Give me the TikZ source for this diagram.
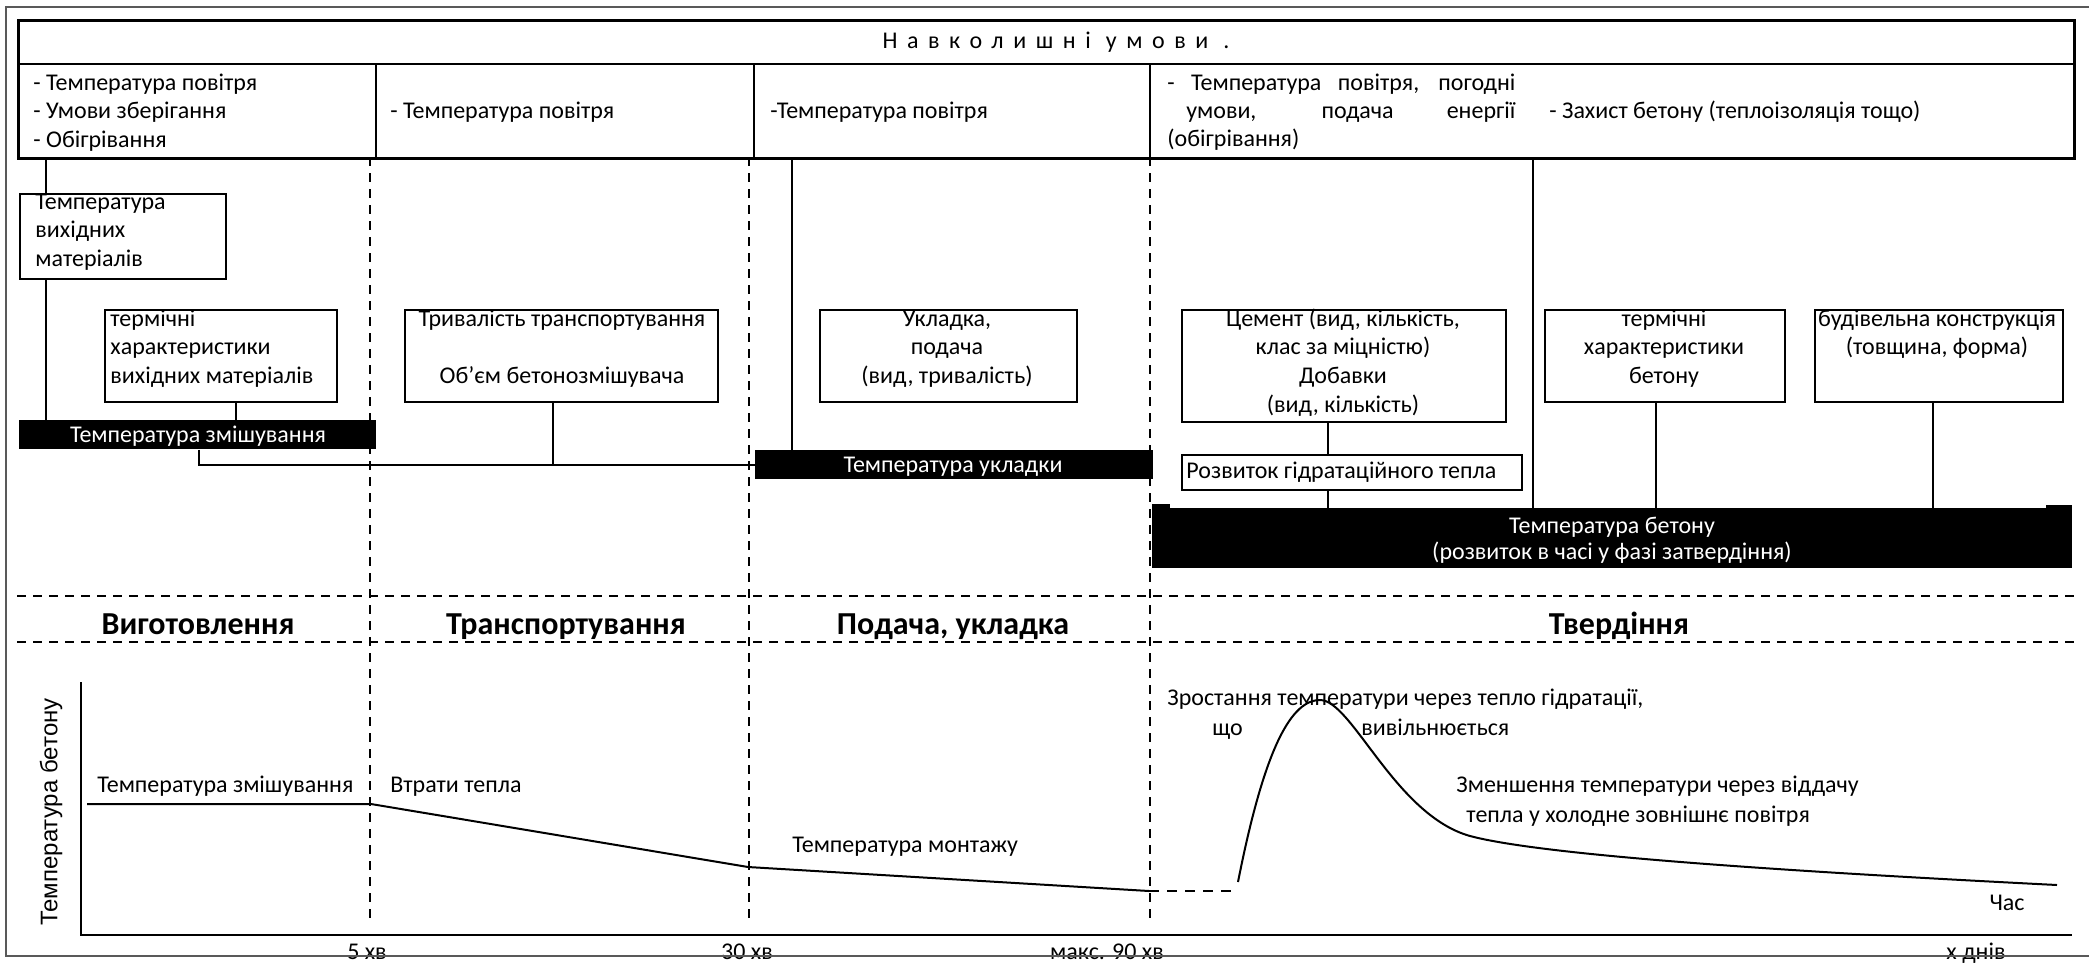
\documentclass[tikz,border=0pt]{standalone}
\usepackage{fontspec}
\setmainfont{Carlito}
\newfontfamily\arialf{Liberation Sans}
\newfontfamily\spacedf[LetterSpace=40]{Carlito}
\newcommand\mycent[1]{\parbox[t]{400pt}{\centering #1}}
\newcommand\myleft[1]{\parbox[t]{400pt}{\raggedright #1}}
\begin{document}
\begin{tikzpicture}[x=0.5pt,y=-0.5pt,
  every node/.style={inner sep=0pt, font=\fontsize{12}{14.4}\selectfont},
  bx/.style={draw, line width=1pt, anchor=north west},
  bar/.style={fill=black, anchor=north west},
  wt/.style={text=white},
  ln/.style={line width=0.8pt},
  dsh/.style={dash pattern=on 4.5pt off 3.5pt, line width=0.7pt},
  axis/.style={line width=1.3pt},
  curve/.style={line width=1pt},
  frame/.style={draw=black!65, line width=1.3pt},
  phase/.style={font=\fontsize{16}{18}\selectfont\bfseries, anchor=base},
  lab/.style={anchor=base west},
  labc/.style={anchor=base},
]
\useasboundingbox (0,0) rectangle (2089,965);
% outer frame (open on the right)
\draw[frame] (2089,7) -- (6,7) -- (6,956) -- (2089,956);

% header table
\node[bx, line width=1.3pt, minimum width=1028pt, minimum height=69pt] (hdr) at (17,19) {};
\draw[line width=1.3pt] (17,64) -- (2073,64);
\draw[line width=1.3pt] (376,64) -- (376,157);
\draw[line width=1.3pt] (754,64) -- (754,157);
\draw[line width=1.3pt] (1150,64) -- (1150,157);
\node[labc] (title) at (1056,48) {\spacedf Навколишні умови .};
\node[lab] (h1) at (33,90) {\myleft{- Температура повітря\\- Умови зберігання\\- Обігрівання}};
\node[lab] (h2) at (390,118) {- Температура повітря};
\node[lab] (h3) at (770,118) {-Температура повітря};
\node[lab] (h4a) at (1167,90) {\makebox[174pt][s]{- Температура повітря, погодні}};
\node[lab] (h4b) at (1186,118) {\makebox[164.5pt][s]{умови, подача енергії}};
\node[lab] (h4c) at (1167,146) {(обігрівання)};
\node[lab] (h5) at (1549,118) {- Захист бетону (теплоізоляція тощо)};

% dashed phase separators
\draw[dsh] (370,157) -- (370,920);
\draw[dsh] (749,157) -- (749,920);
\draw[dsh] (1150,157) -- (1150,920);
\draw[dsh] (17,596) -- (2074,596);
\draw[dsh] (17,642) -- (2074,642);

% boxes
\node[bx, minimum width=103pt, minimum height=42.5pt] (b1) at (19,193) {};
\node[lab] at (35,209) {\myleft{Температура\\вихідних\\матеріалів}};
\node[bx, minimum width=116pt, minimum height=46pt] (b2) at (104,309) {};
\node[lab] at (110,326) {\myleft{термічні\\характеристики\\вихідних матеріалів}};
\node[bx, minimum width=156.5pt, minimum height=46pt] (b3) at (404,309) {};
\node[labc] at (562,326) {\mycent{Тривалість транспортування\\ \mbox{}\\ Об’єм бетонозмішувача}};
\node[bx, minimum width=128.5pt, minimum height=46pt] (b4) at (819,309) {};
\node[labc] at (947,326) {\mycent{Укладка,\\подача\\(вид, тривалість)}};
\node[bx, minimum width=162pt, minimum height=56pt] (b5) at (1181,309) {};
\node[labc] at (1343,326) {\mycent{Цемент (вид, кількість,\\клас за міцністю)\\Добавки\\(вид, кількість)}};
\node[bx, minimum width=170pt, minimum height=17.5pt] (b6) at (1181,454) {};
\node[lab] at (1186,478) {Розвиток гідратаційного тепла};
\node[bx, minimum width=120pt, minimum height=46pt] (b7) at (1544,309) {};
\node[labc] at (1664,326) {\mycent{термічні\\характеристики\\бетону}};
\node[bx, minimum width=124pt, minimum height=46pt] (b8) at (1814,309) {};
\node[labc] at (1937,326) {\mycent{будівельна конструкція\\(товщина, форма)}};

% black bars
\node[bar, minimum width=178.5pt, minimum height=14.5pt] (bar1) at (19,420) {};
\node[labc, wt] at (198,442) {Температура змішування};
\node[bar, minimum width=199pt, minimum height=14.5pt] (bar2) at (755,450) {};
\node[labc, wt] at (953,472) {Температура укладки};
\node[bar, minimum width=460pt, minimum height=30pt] (bar3) at (1152,508) {};
\fill (1152,504) rectangle (1170,509);
\fill (2046,505) rectangle (2072,509);
\node[labc, wt, font=\fontsize{12}{13}\selectfont] at (1612,533) {\mycent{Температура бетону\\(розвиток в часі у фазі затвердіння)}};

% connector x positions
\coordinate (xa) at (46,0);
\coordinate (xb) at (236,0);
\coordinate (xc) at (199,0);
\coordinate (xd) at (553,0);
\coordinate (xe) at (792,0);
\coordinate (xf) at (1328,0);
\coordinate (xg) at (1533,0);
\coordinate (xh) at (1656,0);
\coordinate (xi) at (1933,0);

\draw[ln] (hdr.south -| xa) -- (b1.north -| xa);
\draw[ln] (b1.south -| xa) -- (bar1.north -| xa);
\draw[ln] (b2.south -| xb) -- (bar1.north -| xb);
\draw[ln] (bar1.south -| xc) |- (bar2.west);
\draw[ln] (b3.south -| xd) -- (xd |- bar2.west);
\draw[ln] (hdr.south -| xe) -- (bar2.north -| xe);
\draw[ln] (b5.south -| xf) -- (b6.north -| xf);
\draw[ln] (b6.south -| xf) -- (bar3.north -| xf);
\draw[ln] (hdr.south -| xg) -- (bar3.north -| xg);
\draw[ln] (b7.south -| xh) -- (bar3.north -| xh);
\draw[ln] (b8.south -| xi) -- (bar3.north -| xi);

% phase labels
\node[phase] at (198,634) {Виготовлення};
\node[phase] at (566,634) {Транспортування};
\node[phase] at (953,634) {Подача, укладка};
\node[phase] at (1619,634) {Твердіння};

% chart
\draw[axis] (81,682) -- (81,935) -- (2072,935);
\node[rotate=90, font=\arialf\fontsize{12}{14}\selectfont] (ylab) at (51,812) {Температура бетону};
\draw[curve] (87,804) -- (371,804) -- (748,867) -- (1149,891);
\draw[curve, dash pattern=on 5pt off 4pt] (1149,891) -- (1238,891);
\draw[curve] (1238,882) .. controls (1265,745) and (1292,700) .. (1320,700)
  .. controls (1352,700) and (1395,815) .. (1470,836)
  .. controls (1545,856) and (1800,872) .. (2057,885);

\node[lab] at (97,792) {Температура змішування};
\node[lab] at (390,792) {Втрати тепла};
\node[lab] at (792,852) {Температура монтажу};
\node[lab] at (1167,705) {Зростання температури через тепло гідратації,};
\node[lab] at (1212,735) {що};
\node[lab] at (1361,735) {вивільнюється};
\node[lab] at (1456,792) {Зменшення температури через віддачу};
\node[lab] at (1466,822) {тепла у холодне зовнішнє повітря};
\node[labc] at (2007,910) {Час};
\node[labc] at (367,959) {5 хв};
\node[labc] at (747,959) {30 хв};
\node[labc] at (1107,959) {макс. 90 хв};
\node[labc] at (1976,959) {х днів};
\draw[frame] (6,956) -- (2089,956);
\end{tikzpicture}
\end{document}
